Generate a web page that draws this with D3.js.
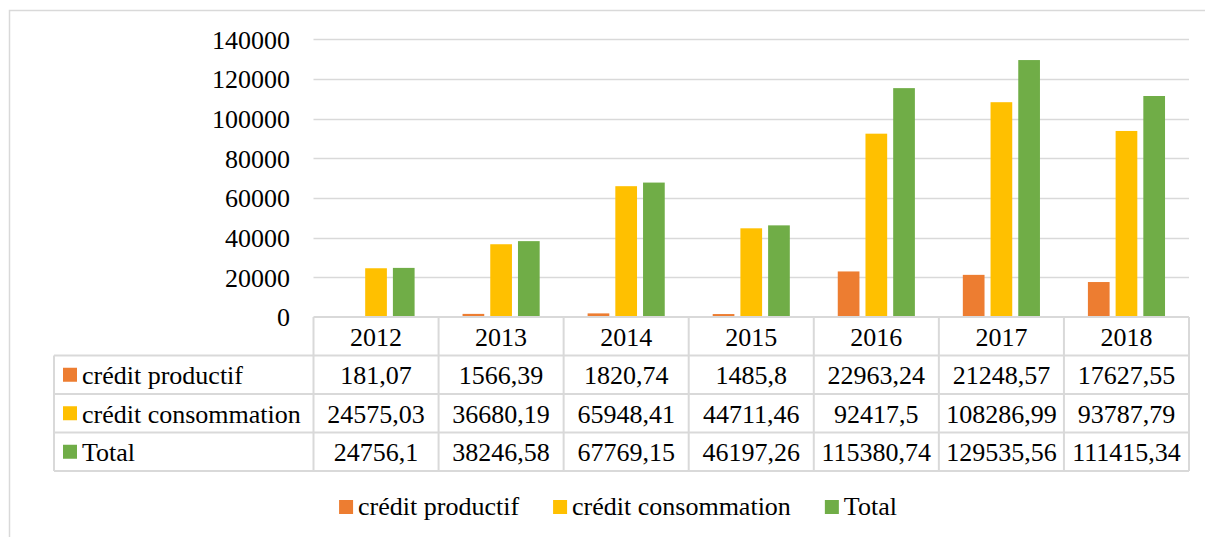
<!DOCTYPE html>
<html>
<head>
<meta charset="utf-8">
<script src="https://cdn.jsdelivr.net/npm/d3@7"></script>
<style>
  html, body { margin: 0; padding: 0; background: #fff; }
  svg { display: block; }
</style>
</head>
<body>
<svg id="chart" width="1205" height="537"></svg>
<script>
const years = ["2012", "2013", "2014", "2015", "2016", "2017", "2018"];
const seriesNames = ["crédit productif", "crédit consommation", "Total"];
const creditProductif = [181.07, 1566.39, 1820.74, 1485.8, 22963.24, 21248.57, 17627.55];
const creditConsommation = [24575.03, 36680.19, 65948.41, 44711.46, 92417.5, 108286.99, 93787.79];
const total = [24756.1, 38246.58, 67769.15, 46197.26, 115380.74, 129535.56, 111415.34];
const tableLabels = [
  ["181,07", "1566,39", "1820,74", "1485,8", "22963,24", "21248,57", "17627,55"],
  ["24575,03", "36680,19", "65948,41", "44711,46", "92417,5", "108286,99", "93787,79"],
  ["24756,1", "38246,58", "67769,15", "46197,26", "115380,74", "129535,56", "111415,34"]
];
const yTicks = [0, 20000, 40000, 60000, 80000, 100000, 120000, 140000];
const colors = ["#ED7D31", "#FFC000", "#70AD47"];

const seriesValues = [creditProductif, creditConsommation, total];

const svg = d3.select("#chart");
const grid = "#D9D9D9";
const FONT = "'Liberation Serif', 'Times New Roman', serif";
const fontSize = "26px";
function styleText(sel) {
  return sel.style("font-family", FONT).style("font-size", fontSize).style("fill", "#000");
}

// outer chart border
svg.append("rect").attr("x", 9.5).attr("y", 10.5).attr("width", 1205).attr("height", 537)
  .attr("fill", "none").attr("stroke", grid).attr("stroke-width", 1.5);

const plotLeft = 313.5, plotRight = 1189;
const y = d3.scaleLinear().domain([0, 140000]).range([317, 39.3]);
const x = d3.scaleBand().domain(years).range([plotLeft, plotRight]).padding(0);
const xs = d3.scaleBand().domain(d3.range(3)).range([0, x.bandwidth()]).paddingInner(0.217).paddingOuter(0.865);

// gridlines
svg.append("g").selectAll("line").data(yTicks.filter(d => d > 0)).join("line")
  .attr("x1", plotLeft).attr("x2", plotRight)
  .attr("y1", d => Math.round(y(d)) + 0.5).attr("y2", d => Math.round(y(d)) + 0.5)
  .attr("stroke", grid).attr("stroke-width", 1.3);

// y axis labels
const yAxis = d3.axisLeft(y).tickValues(yTicks).tickSize(0).tickPadding(0).tickFormat(d3.format("d"));
const ya = svg.append("g").attr("transform", "translate(290,0)").call(yAxis);
ya.select(".domain").remove();
styleText(ya.selectAll("text")).attr("dy", "0.34em");

// bars
seriesValues.forEach((vals, si) => {
  svg.append("g").selectAll("rect").data(vals).join("rect")
    .attr("x", (d, i) => x(years[i]) + xs(si))
    .attr("width", xs.bandwidth())
    .attr("y", d => y(d))
    .attr("height", d => y(0) - y(d))
    .attr("fill", colors[si]);
});

// data table
const rowH = 38.5;
const rowTops = [317, 317 + rowH, 317 + 2 * rowH, 317 + 3 * rowH, 317 + 4 * rowH];
const tableLeft = 54;
const tg = svg.append("g");
tg.append("line").attr("x1", plotLeft).attr("x2", plotRight).attr("y1", rowTops[0]).attr("y2", rowTops[0])
  .attr("stroke", grid).attr("stroke-width", 2);
rowTops.slice(1).forEach(t => {
  tg.append("line").attr("x1", tableLeft).attr("x2", plotRight).attr("y1", t).attr("y2", t)
    .attr("stroke", grid).attr("stroke-width", 2);
});
tg.append("line").attr("x1", tableLeft).attr("x2", tableLeft).attr("y1", rowTops[1]).attr("y2", rowTops[4])
  .attr("stroke", grid).attr("stroke-width", 2);
const colEdges = years.map(yy => x(yy)).concat([plotRight]);
colEdges.forEach(cx => {
  tg.append("line").attr("x1", cx).attr("x2", cx).attr("y1", rowTops[0]).attr("y2", rowTops[4])
    .attr("stroke", grid).attr("stroke-width", 2);
});
// header
styleText(tg.append("g").selectAll("text").data(years).join("text")
  .attr("x", d => x(d) + x.bandwidth() / 2).attr("y", rowTops[0] + 28.5)
  .attr("text-anchor", "middle").text(d => d));
// rows
tableLabels.forEach((row, ri) => {
  const top = rowTops[ri + 1];
  tg.append("rect").attr("x", 63).attr("y", top + rowH / 2 - 7).attr("width", 14).attr("height", 14).attr("fill", colors[ri]);
  styleText(tg.append("text").attr("x", 82).attr("y", top + 28.5).text(seriesNames[ri]));
  styleText(tg.append("g").selectAll("text").data(row).join("text")
    .attr("x", (d, i) => x(years[i]) + x.bandwidth() / 2).attr("y", top + 28.5)
    .attr("text-anchor", "middle").text(d => d));
});

// legend
const lg = svg.append("g");
const items = lg.selectAll("g").data(seriesNames).join("g");
items.append("rect").attr("width", 14).attr("height", 14).attr("y", 500).attr("fill", (d, i) => colors[i]);
styleText(items.append("text").attr("x", 19).attr("y", 515).text(d => d));
const gap = 34;
const widths = [];
items.each(function () { widths.push(19 + this.querySelector("text").getComputedTextLength()); });
const totalW = d3.sum(widths) + gap * (widths.length - 1);
let cx = 618 - totalW / 2;
items.attr("transform", (d, i) => {
  const t = `translate(${cx},0)`;
  cx += widths[i] + gap;
  return t;
});
</script>
</body>
</html>
